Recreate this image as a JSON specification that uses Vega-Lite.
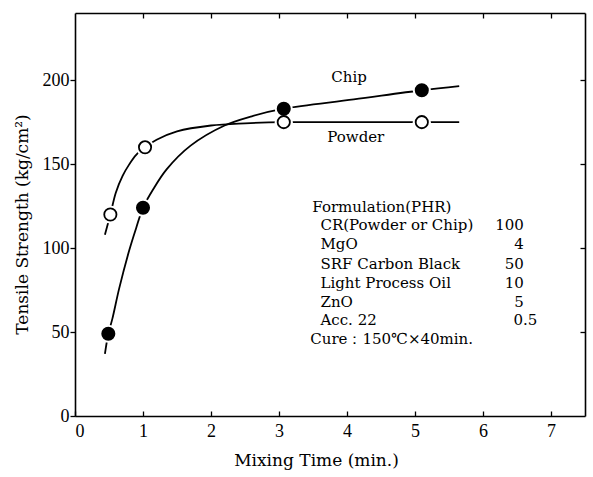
{
  "$schema": "https://vega.github.io/schema/vega-lite/v6.json",
  "autosize": "none",
  "padding": {"left": 75, "top": 13, "right": 8, "bottom": 61},
  "width": 510,
  "height": 403,
  "background": "white",
  "config": {
    "view": {"stroke": null},
    "font": "DejaVu Serif",
    "axis": {"grid": false, "domainColor": "black", "domainWidth": 1.6, "tickColor": "black", "tickWidth": 1.3, "labelColor": "black", "titleColor": "black", "labelFont": "Liberation Serif", "titleFont": "DejaVu Serif", "titleFontWeight": "normal", "labelFontSize": 18, "titleFontSize": 17}
  },
  "datasets": {
    "curves": [
      {"series": "Powder", "x": 0.44, "y": 108},
      {"series": "Powder", "x": 0.52, "y": 120},
      {"series": "Powder", "x": 0.6, "y": 133},
      {"series": "Powder", "x": 0.7, "y": 143},
      {"series": "Powder", "x": 0.8, "y": 150},
      {"series": "Powder", "x": 0.9, "y": 155.5},
      {"series": "Powder", "x": 1.03, "y": 160},
      {"series": "Powder", "x": 1.2, "y": 164.5},
      {"series": "Powder", "x": 1.5, "y": 169.5},
      {"series": "Powder", "x": 2.0, "y": 173},
      {"series": "Powder", "x": 2.5, "y": 174.3},
      {"series": "Powder", "x": 3.07, "y": 175},
      {"series": "Powder", "x": 4.1, "y": 175},
      {"series": "Powder", "x": 5.1, "y": 175},
      {"series": "Powder", "x": 5.65, "y": 175},
      {"series": "Chip", "x": 0.44, "y": 37},
      {"series": "Chip", "x": 0.49, "y": 49},
      {"series": "Chip", "x": 0.55, "y": 58},
      {"series": "Chip", "x": 0.65, "y": 76},
      {"series": "Chip", "x": 0.8, "y": 99},
      {"series": "Chip", "x": 0.9, "y": 112},
      {"series": "Chip", "x": 1.0, "y": 124},
      {"series": "Chip", "x": 1.15, "y": 135},
      {"series": "Chip", "x": 1.35, "y": 147},
      {"series": "Chip", "x": 1.7, "y": 161},
      {"series": "Chip", "x": 2.2, "y": 173},
      {"series": "Chip", "x": 2.6, "y": 178.5},
      {"series": "Chip", "x": 3.07, "y": 183},
      {"series": "Chip", "x": 4.1, "y": 188.5},
      {"series": "Chip", "x": 5.1, "y": 194},
      {"series": "Chip", "x": 5.65, "y": 196.5}
    ],
    "points": [
      {"series": "Powder", "x": 0.52, "y": 120},
      {"series": "Powder", "x": 1.03, "y": 160},
      {"series": "Powder", "x": 3.07, "y": 175},
      {"series": "Powder", "x": 5.1, "y": 175},
      {"series": "Chip", "x": 0.49, "y": 49},
      {"series": "Chip", "x": 1.0, "y": 124},
      {"series": "Chip", "x": 3.07, "y": 183},
      {"series": "Chip", "x": 5.1, "y": 194}
    ],
    "labels": [
      {"x": 3.77, "y": 201.8, "text": "Chip"},
      {"x": 3.71, "y": 166, "text": "Powder"},
      {"x": 3.49, "y": 124.5, "text": "Formulation(PHR)"},
      {"x": 3.61, "y": 113.7, "text": "CR(Powder or Chip)"},
      {"x": 3.61, "y": 102.4, "text": "MgO"},
      {"x": 3.61, "y": 90.8, "text": "SRF Carbon Black"},
      {"x": 3.61, "y": 79.2, "text": "Light Process Oil"},
      {"x": 3.61, "y": 67.9, "text": "ZnO"},
      {"x": 3.61, "y": 57.2, "text": "Acc. 22"},
      {"x": 3.46, "y": 45.9, "text": "Cure：150℃×40min."}
    ],
    "values": [
      {"x": 6.6, "y": 113.7, "text": "100"},
      {"x": 6.6, "y": 102.4, "text": "4"},
      {"x": 6.6, "y": 90.8, "text": "50"},
      {"x": 6.6, "y": 79.2, "text": "10"},
      {"x": 6.6, "y": 67.9, "text": "5"},
      {"x": 6.8, "y": 57.2, "text": "0.5"}
    ]
  },
  "resolve": {"axis": {"x": "independent", "y": "independent"}},
  "layer": [
    {
      "data": {"name": "curves"},
      "mark": {"type": "line", "interpolate": "catmull-rom", "color": "black", "strokeWidth": 1.8},
      "encoding": {
        "x": {"field": "x", "type": "quantitative", "scale": {"domain": [0, 7.5], "nice": false, "zero": false},
          "axis": {"orient": "bottom", "values": [0, 1, 2, 3, 4, 5, 6, 7], "tickSize": -5, "labelPadding": 11, "title": "Mixing  Time (min.)", "titlePadding": 12, "titleX": 241}},
        "y": {"field": "y", "type": "quantitative", "scale": {"domain": [0, 240], "nice": false, "zero": false},
          "axis": {"orient": "left", "values": [0, 50, 100, 150, 200], "tickSize": 5, "labelPadding": 1, "title": "Tensile  Strength (kg/cm²)", "titlePadding": 11, "titleY": 211}},
        "detail": {"field": "series"}
      }
    },
    {
      "data": {"name": "points"},
      "mark": {"type": "circle", "color": "white", "opacity": 1, "size": 330},
      "encoding": {
        "x": {"field": "x", "type": "quantitative", "scale": {"domain": [0, 7.5], "nice": false, "zero": false}, "axis": null},
        "y": {"field": "y", "type": "quantitative", "scale": {"domain": [0, 240], "nice": false, "zero": false}, "axis": null}
      }
    },
    {
      "data": {"name": "points"},
      "mark": {"type": "point", "shape": "circle", "stroke": "black", "strokeWidth": 1.8, "opacity": 1, "size": 150, "filled": false},
      "encoding": {
        "x": {"field": "x", "type": "quantitative", "scale": {"domain": [0, 7.5], "nice": false, "zero": false}, "axis": null},
        "y": {"field": "y", "type": "quantitative", "scale": {"domain": [0, 240], "nice": false, "zero": false}, "axis": null},
        "fill": {"field": "series", "type": "nominal", "scale": {"domain": ["Chip", "Powder"], "range": ["black", "white"]}, "legend": null}
      }
    },
    {
      "data": {"name": "labels"},
      "mark": {"type": "text", "align": "left", "baseline": "middle", "font": "DejaVu Serif", "fontSize": 15, "color": "black"},
      "encoding": {
        "x": {"field": "x", "type": "quantitative", "scale": {"domain": [0, 7.5], "nice": false, "zero": false}, "axis": null},
        "y": {"field": "y", "type": "quantitative", "scale": {"domain": [0, 240], "nice": false, "zero": false}, "axis": null},
        "text": {"field": "text"}
      }
    },
    {
      "data": {"name": "values"},
      "mark": {"type": "text", "align": "right", "baseline": "middle", "font": "DejaVu Serif", "fontSize": 15, "color": "black"},
      "encoding": {
        "x": {"field": "x", "type": "quantitative", "scale": {"domain": [0, 7.5], "nice": false, "zero": false}, "axis": null},
        "y": {"field": "y", "type": "quantitative", "scale": {"domain": [0, 240], "nice": false, "zero": false}, "axis": null},
        "text": {"field": "text"}
      }
    },
    {
      "data": {"name": "points"},
      "mark": {"type": "point", "opacity": 0},
      "encoding": {
        "x": {"field": "x", "type": "quantitative", "scale": {"domain": [0, 7.5], "nice": false, "zero": false},
          "axis": {"orient": "top", "values": [1, 2, 3, 4, 5, 6, 7], "tickSize": -5, "labels": false, "title": null}},
        "y": {"field": "y", "type": "quantitative", "scale": {"domain": [0, 240], "nice": false, "zero": false},
          "axis": {"orient": "right", "values": [50, 100, 150, 200], "tickSize": -5, "labels": false, "title": null}}
      }
    }
  ]
}
